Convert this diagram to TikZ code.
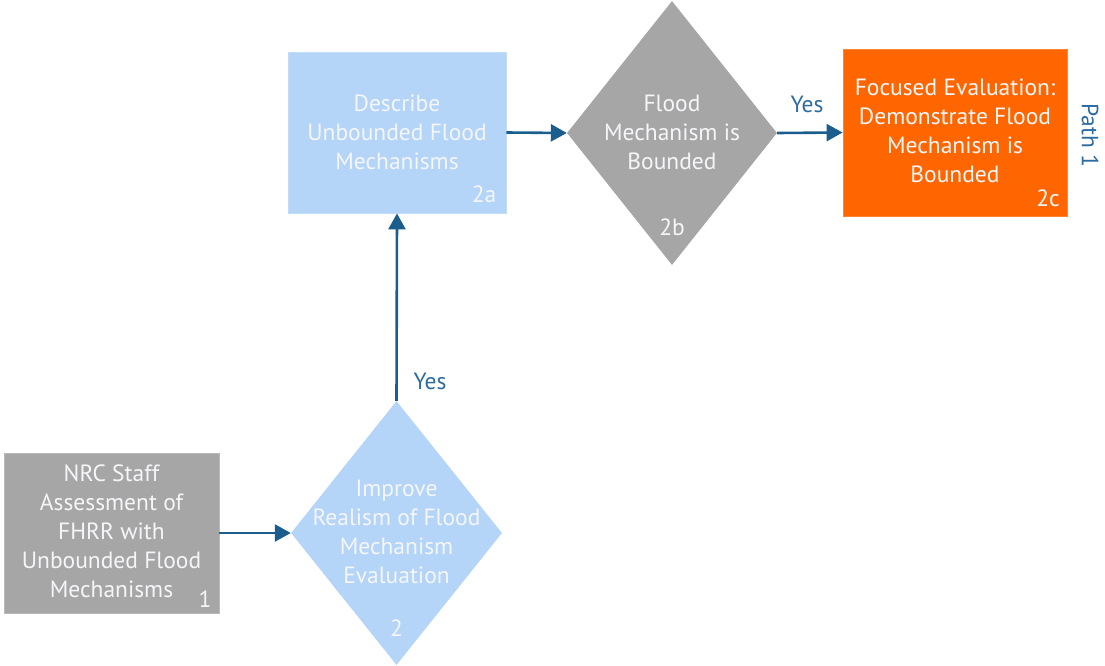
\documentclass[tikz,border=0pt]{standalone}
\usepackage{fontspec}
\setmainfont{PT Sans}
\usetikzlibrary{shapes.geometric,arrows.meta}
\definecolor{boxgray}{HTML}{A6A6A6}
\definecolor{boxblue}{HTML}{B4D4F8}
\definecolor{boxorange}{HTML}{FF6600}
\definecolor{flowblue}{HTML}{1B5E8E}
\definecolor{labelblue}{HTML}{2E6BA0}
\definecolor{softwhite}{HTML}{F4F6F8}
\tikzset{
  stepbox/.style={rectangle, draw=#1!80!white, line width=0.8pt, fill=#1, inner sep=0pt},
  decision/.style={diamond, fill=#1, inner sep=0pt},
  boxtext/.style={align=center, text=softwhite, font=\fontsize{23.5}{29}\selectfont, inner sep=0pt},
  tag/.style={text=softwhite, font=\fontsize{23.5}{28}\selectfont, inner sep=0pt},
  flow/.style={draw=flowblue, line width=2.6pt, -{Triangle[length=16pt,width=17pt]}},
  yes/.style={text=labelblue, font=\fontsize{23.5}{28}\selectfont, inner sep=0pt}
}
\begin{document}
\begin{tikzpicture}[x=1pt,y=-1pt]
\useasboundingbox (0,0) rectangle (1105,666);

% process boxes
\node[stepbox=boxgray, minimum width=215pt, minimum height=160pt] (n1) at (111.5,533) {};
\node[stepbox=boxblue, minimum width=218pt, minimum height=161pt] (n2a) at (397,132.5) {};
\node[stepbox=boxorange, minimum width=224pt, minimum height=167pt] (n2c) at (955,132.5) {};

% decision diamonds
\node[decision=boxblue, minimum width=211pt, minimum height=264pt] (n2) at (396.5,533) {};
\node[decision=boxgray, minimum width=210pt, minimum height=264pt] (n2b) at (672,133) {};

% box texts
\node[boxtext] (t1) at (111.5,531) {NRC Staff\\Assessment of\\FHRR with\\Unbounded Flood\\Mechanisms};
\node[boxtext] (t2) at (396.5,532) {Improve\\Realism of Flood\\Mechanism\\Evaluation};
\node[boxtext] (t2a) at (397,132) {Describe\\Unbounded Flood\\Mechanisms};
\node[boxtext] (t2b) at (672,132) {Flood\\Mechanism is\\Bounded};
\node[boxtext] (t2c) at (955,131) {Focused Evaluation:\\Demonstrate Flood\\Mechanism is\\Bounded};

% step numbers
\node[tag] (k1) at (205,599) {1};
\node[tag] (k2) at (396.5,628) {2};
\node[tag] (k2a) at (484,194) {2a};
\node[tag] (k2b) at (672,227) {2b};
\node[tag] (k2c) at (1048,198) {2c};

% connectors
\draw[flow] (n1.east) -- (n2.west);
\draw[flow] (n2.north) -- (n2a.south);
\draw[flow] (n2a.east) -- (n2b.west);
\draw[flow] (n2b.east) -- (n2c.west);

% branch labels
\node[yes] (y1) at (430,381) {Yes};
\node[yes] (y2) at (807,104) {Yes};
\node[yes, rotate=-90] (path) at (1090,135) {Path 1};
\end{tikzpicture}
\end{document}
